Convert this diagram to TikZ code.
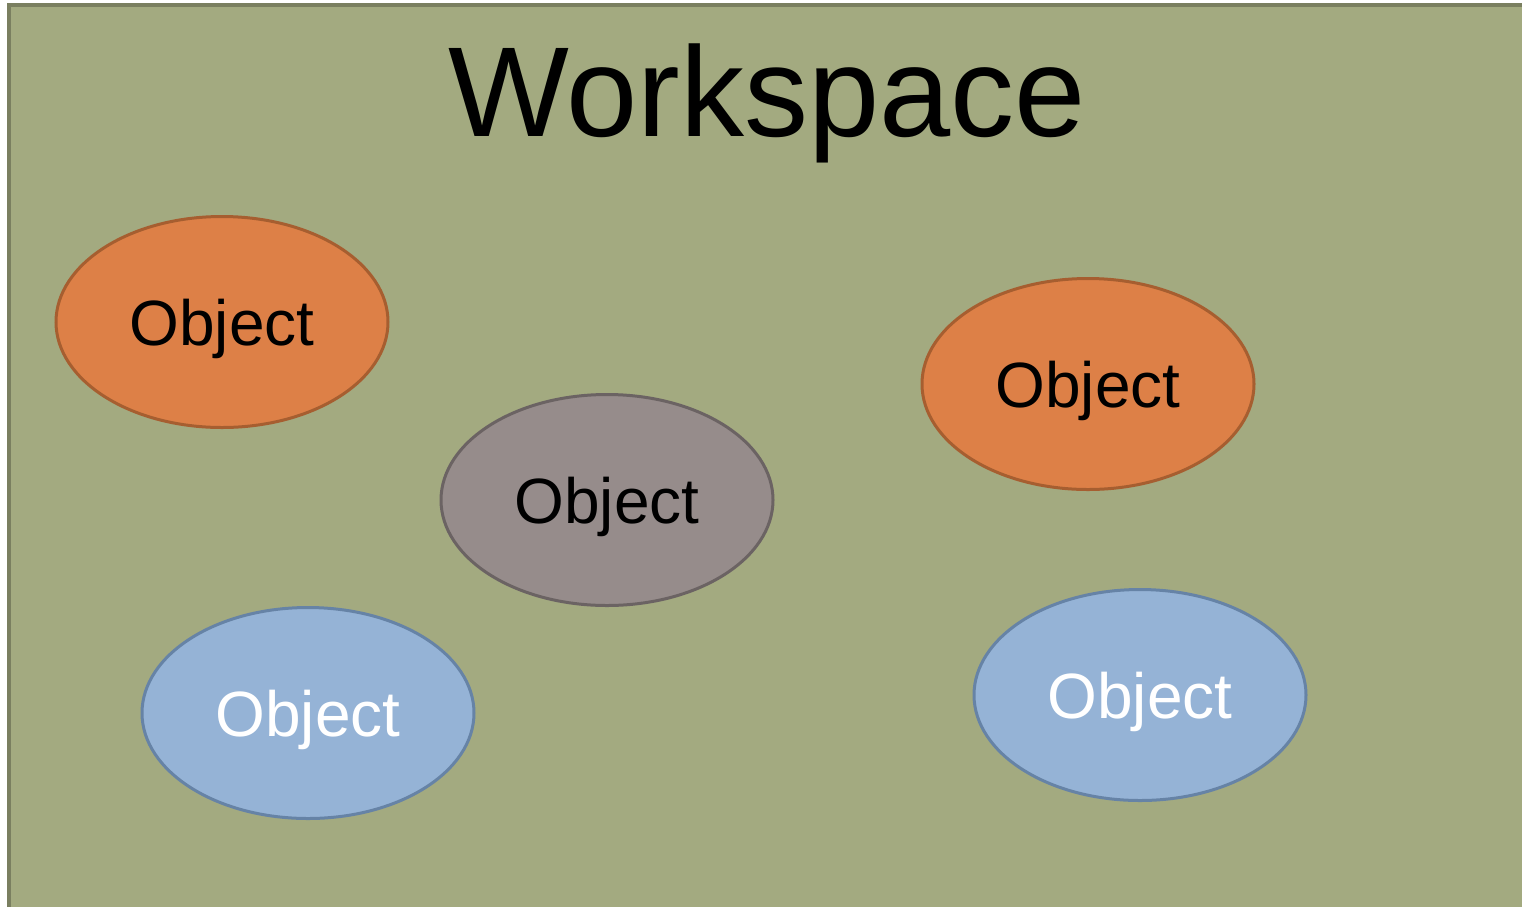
\documentclass[tikz,border=0pt]{standalone}
\usepackage{fontspec}
\setmainfont{Liberation Sans}
\usetikzlibrary{shapes.geometric}
\definecolor{wsfill}{HTML}{A3AA80}
\definecolor{wsline}{HTML}{7A7F60}
\definecolor{orfill}{HTML}{DD8047}
\definecolor{orline}{HTML}{A65E30}
\definecolor{gyfill}{HTML}{968C8B}
\definecolor{gyline}{HTML}{6B6363}
\definecolor{blfill}{HTML}{95B3D6}
\definecolor{blline}{HTML}{6683A6}
\begin{document}
\begin{tikzpicture}[x=1pt, y=-1pt,
            object/.style={ellipse, line width=3pt, inner sep=0pt,
                minimum width=332pt, minimum height=211pt, text depth=0pt,
                font=\fontsize{64}{70}\selectfont},
            orangeobj/.style={object, draw=orline, fill=orfill, text=black},
            greyobj/.style={object, draw=gyline, fill=gyfill, text=black},
            blueobj/.style={object, draw=blline, fill=blfill, text=white}]
        \useasboundingbox (0,0) rectangle (1522,906);
        \clip (0,0) rectangle (1522,906);
        % workspace area, runs off the right and bottom edges
        \draw [line width=4pt, draw=wsline, fill=wsfill] (9,5) rectangle (1540,930);
        \node [anchor=base, font=\fontsize{128}{140}\selectfont] (title) at (767,136) {Workspace};
        % objects
        \node [orangeobj] (obj1) at (222,322) {Object};
        \node [greyobj] (obj2) at (607,500) {Object};
        \node [orangeobj] (obj3) at (1088,384) {Object};
        \node [blueobj] (obj4) at (308,713) {Object};
        \node [blueobj] (obj5) at (1140,695) {Object};
    \end{tikzpicture}
\end{document}
